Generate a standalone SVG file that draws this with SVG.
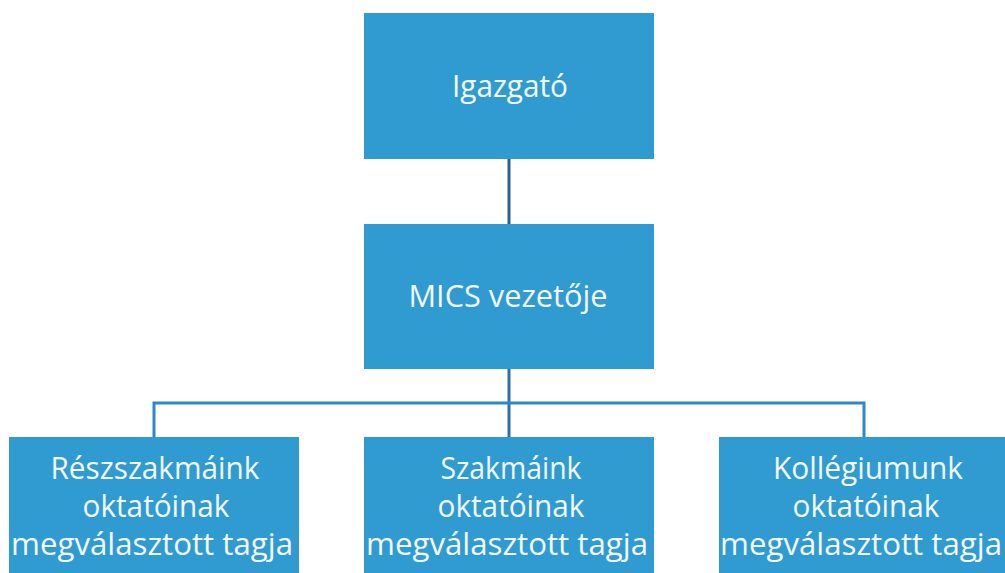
<svg xmlns="http://www.w3.org/2000/svg" width="1005" height="573" viewBox="0 0 1005 573">
<style>
.box{fill:#2f9bd1;}
.t{font-family:"Open Sans","Lato",sans-serif;font-size:31px;fill:#f4f9fd;text-anchor:middle;}
.c{stroke:#2a6fb6;stroke-width:3;fill:none;}
</style>
<rect width="1005" height="573" fill="#ffffff"/>
<g id="connectors">
<line class="c" x1="509" y1="159" x2="509" y2="224" style="stroke:#2b5e9f"/>
<line class="c" x1="509" y1="369" x2="509" y2="437"/>
<polyline class="c" points="154,437 154,403 864,403 864,437" style="stroke:#2f86c8"/>
</g>
<g id="igazgato">
<rect class="box" x="364" y="13" width="290" height="146"/>
<text class="t" x="510" y="97" textLength="116" lengthAdjust="spacingAndGlyphs">Igazgató</text>
</g>
<g id="mics">
<rect class="box" x="364" y="224" width="290" height="145"/>
<text class="t" x="508" y="307" textLength="199" lengthAdjust="spacingAndGlyphs">MICS vezetője</text>
</g>
<g id="reszszakmaink">
<rect class="box" x="9" y="437" width="290" height="140"/>
<text class="t" x="155" y="479" textLength="209" lengthAdjust="spacingAndGlyphs">Részszakmáink</text>
<text class="t" x="156" y="517" textLength="147" lengthAdjust="spacingAndGlyphs">oktatóinak</text>
<text class="t" x="152" y="555" textLength="282" lengthAdjust="spacingAndGlyphs">megválasztott tagja</text>
</g>
<g id="szakmaink">
<rect class="box" x="364" y="437" width="290" height="140"/>
<text class="t" x="511" y="479" textLength="141" lengthAdjust="spacingAndGlyphs">Szakmáink</text>
<text class="t" x="511" y="517" textLength="147" lengthAdjust="spacingAndGlyphs">oktatóinak</text>
<text class="t" x="507" y="555" textLength="282" lengthAdjust="spacingAndGlyphs">megválasztott tagja</text>
</g>
<g id="kollegiumunk">
<rect class="box" x="719" y="437" width="290" height="140"/>
<text class="t" x="868" y="479" textLength="190" lengthAdjust="spacingAndGlyphs">Kollégiumunk</text>
<text class="t" x="866" y="517" textLength="147" lengthAdjust="spacingAndGlyphs">oktatóinak</text>
<text class="t" x="861" y="555" textLength="282" lengthAdjust="spacingAndGlyphs">megválasztott tagja</text>
</g>
</svg>
